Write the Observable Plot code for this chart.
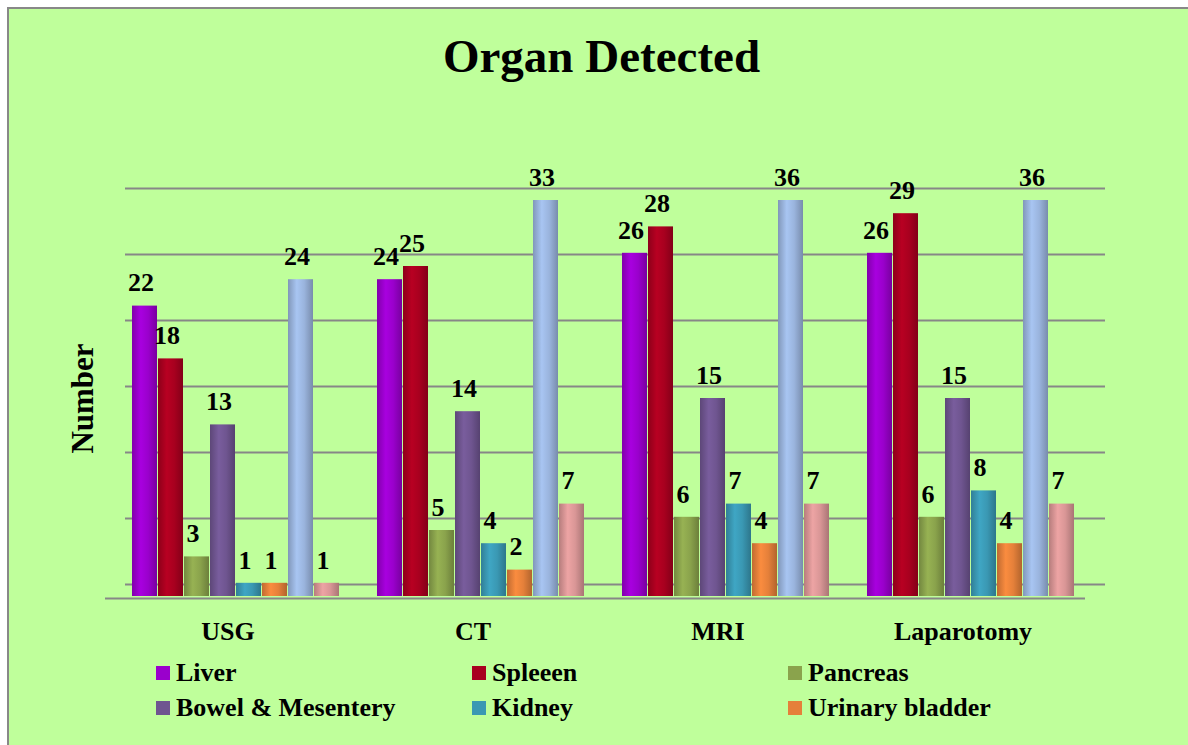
<!DOCTYPE html>
<html>
<head>
<meta charset="utf-8">
<script src="https://cdn.jsdelivr.net/npm/d3@7"></script>
<script src="https://cdn.jsdelivr.net/npm/@observablehq/plot@0.6"></script>
<style>
  html, body { margin: 0; padding: 0; background: #ffffff; }
  #page { position: absolute; left: 0; top: 0; width: 1188px; height: 745px; overflow: hidden; font-family: "Liberation Serif", "Times New Roman", serif; }
  #bg { position: absolute; left: 7px; top: 7px; width: 1181px; height: 738px; background: #BFFF9B; border-left: 2px solid #888; border-top: 2px solid #888; box-sizing: border-box; }
  #title { position: absolute; left: 0; top: 33px; width: 1203px; text-align: center; font-size: 47px; line-height: 47px; font-weight: bold; color: #000; }
  #chart { position: absolute; left: 0; top: 110px; }
  .lg { position: absolute; font-size: 26px; font-weight: bold; line-height: 30px; color: #000; white-space: nowrap; }
  .sw { position: absolute; width: 14px; height: 14px; }
</style>
</head>
<body>
<svg width="0" height="0" style="position:absolute" id="defs-holder"><defs id="defs"></defs></svg>
<div id="page">
  <div id="bg"></div>
  <div id="title">Organ Detected</div>
  <div id="chart"></div>
  <div id="legend"></div>
</div>
<script>
// ---- Data ----
const groups = ["USG", "CT", "MRI", "Laparotomy"];
const seriesNames = ["Liver", "Spleeen", "Pancreas", "Bowel & Mesentery", "Kidney", "Urinary bladder", "Series 7", "Series 8"];
const liver    = [22, 24, 26, 26];
const spleen   = [18, 25, 28, 29];
const pancreas = [3, 5, 6, 6];
const bowel    = [13, 14, 15, 15];
const kidney   = [1, 4, 7, 8];
const bladder  = [1, 2, 4, 4];
const series7  = [24, 33, 36, 36];
const series8  = [1, 7, 7, 7];
const legendNames = ["Liver", "Spleeen", "Pancreas", "Bowel & Mesentery", "Kidney", "Urinary bladder"];

// ---- Styles ----
const colors = ["#9A00CC", "#A8001F", "#8AA34C", "#6F5590", "#3A98B3", "#E5803A", "#9AB4DD", "#D99696"];

const valuesBySeries = [liver, spleen, pancreas, bowel, kidney, bladder, series7, series8];
const table = [];
groups.forEach((g, gi) => {
  seriesNames.forEach((s, si) => {
    table.push({group: g, series: s, value: valuesBySeries[si][gi]});
  });
});

// cylinder-like gradients
const defs = d3.select("#defs");
colors.forEach((c, i) => {
  const base = d3.color(c);
  const lg = defs.append("linearGradient").attr("id", "g" + i).attr("x1", "0").attr("x2", "1").attr("y1", "0").attr("y2", "0");
  lg.append("stop").attr("offset", "0%").attr("stop-color", base.darker(0.5));
  lg.append("stop").attr("offset", "35%").attr("stop-color", base.brighter(0.25));
  lg.append("stop").attr("offset", "65%").attr("stop-color", base);
  lg.append("stop").attr("offset", "100%").attr("stop-color", base.darker(0.7));
});

const chart = Plot.plot({
  width: 1188,
  height: 540,
  marginLeft: 105,
  marginRight: 103,
  marginTop: 90,
  marginBottom: 54,
  style: {background: "transparent", color: "#000", fontFamily: "'Liberation Serif', 'Times New Roman', serif", fontSize: "26px", fontWeight: "bold"},
  fx: {domain: groups, padding: 0, label: null},
  x: {domain: seriesNames, paddingInner: 0.03, paddingOuter: 0.7, axis: null},
  y: {domain: [0, 30], clamp: true, axis: null},
  color: {domain: seriesNames, range: colors.map((c, i) => `url(#g${i})`)},
  marks: [
    Plot.gridY({ticks: 6, stroke: "#878787", strokeOpacity: 1, strokeWidth: 2, dx: 20, dy: -12}),
    Plot.ruleY([0], {stroke: "#878787", strokeWidth: 2, dy: 2}),
    Plot.barY(table, {fx: "group", x: "series", y: "value", fill: "series", dx: 8}),
    Plot.text(table, {fx: "group", x: "series", y: "value", text: d => String(d.value), dy: -23, dx: 4, lineAnchor: "middle", fontSize: 26, fontWeight: "bold", fill: "#000"}),
    Plot.axisFx({anchor: "bottom", tickSize: 0, tickPadding: 25, label: null, fontSize: 26, fontWeight: "bold"}),
    Plot.axisY({ticks: [], tickSize: 0, label: "Number", labelAnchor: "center", labelArrow: "none", labelOffset: 35, fontSize: 31, fontWeight: "bold"})
  ]
});
document.getElementById("chart").appendChild(chart);

// legend (6 visible entries, as in the reference)
const legend = document.getElementById("legend");
const colX = [156, 472, 788];
const rowY = [673, 708];
legendNames.forEach((name, i) => {
  const col = i % 3, row = Math.floor(i / 3);
  const sw = document.createElement("div");
  sw.className = "sw";
  sw.style.left = colX[col] + "px";
  sw.style.top = (rowY[row] - 7) + "px";
  sw.style.background = colors[seriesNames.indexOf(name)];
  legend.appendChild(sw);
  const t = document.createElement("div");
  t.className = "lg";
  t.style.left = (colX[col] + 20) + "px";
  t.style.top = (rowY[row] - 15) + "px";
  t.textContent = name;
  legend.appendChild(t);
});
</script>
</body>
</html>
